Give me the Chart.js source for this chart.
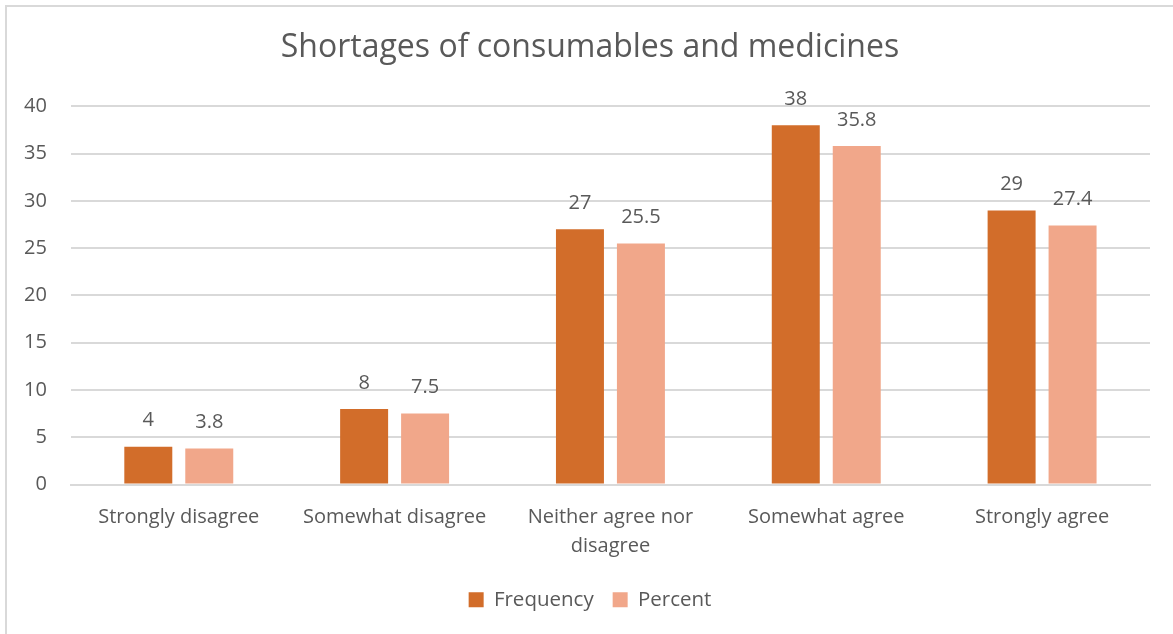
<!DOCTYPE html>
<html><head><meta charset="utf-8">
<script src="https://cdn.jsdelivr.net/npm/chart.js@4/dist/chart.umd.min.js"></script>
<style>
html,body{margin:0;padding:0;background:#fff;overflow:hidden;}
#frame{position:absolute;left:5px;top:5px;width:1200px;height:700px;border:2px solid #d9d9d9;box-sizing:border-box;}
#wrap{position:absolute;left:0;top:0;width:1173px;height:634px;overflow:hidden;}
</style></head>
<body>
<div id="frame"></div>
<div id="wrap"><canvas id="c" width="1180" height="634"></canvas></div>
<script>
const categories = ["Strongly disagree", "Somewhat disagree", ["Neither agree nor", "disagree"], "Somewhat agree", "Strongly agree"];
const frequency = [4, 8, 27, 38, 29];
const percent = [3.8, 7.5, 25.5, 35.8, 27.4];
const yTicks = [0, 5, 10, 15, 20, 25, 30, 35, 40];

const FONT = "'Open Sans', 'Liberation Sans', sans-serif";
const TXT = "#595959";

const labelPlugin = {
  id: 'barLabels',
  afterDatasetsDraw(chart) {
    const ctx = chart.ctx;
    ctx.save();
    ctx.font = "20px " + FONT;
    ctx.fillStyle = TXT;
    ctx.textAlign = 'center';
    ctx.textBaseline = 'middle';
    chart.data.datasets.forEach((ds, i) => {
      chart.getDatasetMeta(i).data.forEach((bar, j) => {
        ctx.fillText(String(ds.data[j]), bar.x, bar.y - 26);
      });
    });
    ctx.restore();
  }
};

new Chart(document.getElementById('c'), {
  type: 'bar',
  data: {
    labels: categories,
    datasets: [
      {label: 'Frequency', data: frequency, backgroundColor: '#D26D2A', categoryPercentage: 0.565, barPercentage: 0.787},
      {label: 'Percent', data: percent, backgroundColor: '#F1A78A', categoryPercentage: 0.565, barPercentage: 0.787}
    ]
  },
  options: {
    responsive: false,
    animation: false,
    devicePixelRatio: 1,
    layout: {padding: {left: 0, right: 0, top: 10, bottom: 14}},
    plugins: {
      title: {display: true, text: 'Shortages of consumables and medicines', color: TXT,
        font: {family: FONT, size: 32, weight: 'normal'}, padding: {top: 19, bottom: 39}},
      legend: {position: 'bottom', labels: {color: TXT, font: {family: FONT, size: 20.5},
        boxWidth: 15, boxHeight: 15, padding: 19}},
      tooltip: {enabled: false}
    },
    scales: {
      x: {grid: {display: false}, border: {display: true, color: '#d9d9d9', width: 2},
        ticks: {color: TXT, font: {family: FONT, size: 20, lineHeight: 1.45}, padding: 10, maxRotation: 0}},
      y: {min: 0, max: 40, afterBuildTicks: (s) => { s.ticks = yTicks.map(v => ({value: v})); },
        grid: {color: '#d9d9d9', lineWidth: 2, drawTicks: false},
        border: {display: false},
        ticks: {color: TXT, font: {family: FONT, size: 20}, padding: 24}},
      y2: {position: 'right', display: true, grid: {display: false}, border: {display: false},
        ticks: {display: false}, afterFit: (s) => { s.width = 30; }}
    }
  },
  plugins: [labelPlugin]
});
</script>
</body></html>
